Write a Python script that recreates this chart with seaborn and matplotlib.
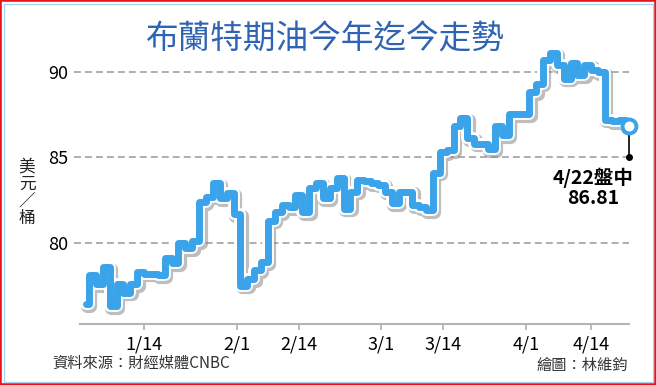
import numpy as np
import pandas as pd
import matplotlib
matplotlib.use("Agg")
import matplotlib.pyplot as plt
import matplotlib.patheffects as pe
from matplotlib.patches import Rectangle
import seaborn as sns

# ---------------- data ----------------
title = "布蘭特期油今年迄今走勢"
y_label = "美\n元\n／\n桶"
source_text = "資料來源：財經媒體CNBC"
credit_text = "繪圖：林維鈞"
last_label = "4/22盤中"

# Brent daily prices by trading day, 2024-01-02 ... 2024-04-22
prices = [
    76.4, 78.1, 77.6, 78.6, 76.3, 77.6, 77.1, 77.6, 78.3, 78.2,
    78.2, 78.1, 79.1, 78.8, 80.0, 79.7, 80.1, 82.4, 82.7, 83.5,
    82.6, 82.9, 81.7, 77.5, 77.9, 78.4, 78.9, 81.3, 81.8, 82.2,
    82.1, 82.8, 81.8, 83.2, 83.5, 82.6, 83.2, 83.8, 82.0, 83.0,
    83.7, 83.6, 83.5, 83.4, 83.0, 82.3, 83.0, 83.0, 82.2, 82.1,
    81.9, 84.1, 85.3, 85.4, 86.8, 87.3, 86.1, 85.8, 85.8, 85.5,
    86.8, 86.3, 87.5, 87.5, 87.5, 88.8, 89.3, 90.7, 91.1, 90.4,
    89.6, 90.5, 89.8, 90.4, 90.1, 90.0, 87.2, 87.1, 87.2, 86.81,
]
x_tick_labels = ["1/14", "2/1", "2/14", "3/1", "3/14", "4/1", "4/14"]
x_tick_days = [8.5, 22, 31, 43, 52, 64, 73.5]   # trading-day index of each label date
y_ticks = [80, 85, 90]

# ---------------- style ----------------
sns.set_theme(style="white")
plt.rcParams["font.family"] = ["Noto Sans CJK TC", "DejaVu Sans"]
plt.rcParams["lines.scale_dashes"] = False

LINE_BLUE = "#3aa3e9"
W, H = 656, 385
fig = plt.figure(figsize=(W / 100, H / 100), dpi=100)
fig.patch.set_facecolor("white")
ax = fig.add_axes([74 / W, 1 - 324 / H, (629 - 74) / W, (324 - 45) / H])
ax.set_facecolor("white")

df = pd.DataFrame({"day": np.arange(len(prices)), "price": prices})

for yv in y_ticks:
    ax.axhline(yv, color="#aeaeae", linewidth=1.4, dashes=(5, 2.9), zorder=1)

sns.lineplot(
    data=df, x="day", y="price", ax=ax, color=LINE_BLUE, linewidth=5,
    drawstyle="steps-mid", solid_joinstyle="round", solid_capstyle="round",
    zorder=3,
    path_effects=[
        pe.SimpleLineShadow(offset=(1.0, -1.3), shadow_color="#8a8a8a", alpha=0.55, linewidth=9.5),
        pe.Stroke(linewidth=8.5, foreground="white"),
        pe.Normal(),
    ],
)

x_last = df["day"].iloc[-1]
y_last = prices[-1]
ax.plot([x_last, x_last], [y_last, y_ticks[1]], color="black", linewidth=1.2, zorder=4, clip_on=False)
ax.plot([x_last], [y_ticks[1]], marker="o", color="black", markersize=4, zorder=4, clip_on=False)
ax.plot([x_last], [y_last], marker="o", markersize=10, markerfacecolor="white",
        markeredgecolor=LINE_BLUE, markeredgewidth=2.8, zorder=6, clip_on=False)

ax.annotate(last_label, xy=(x_last, y_ticks[1]), xytext=(-26, -15), textcoords="offset points",
            ha="center", va="center", fontsize=14, fontweight="bold", color="black")
ax.annotate(f"{y_last:.2f}", xy=(x_last, y_ticks[1]), xytext=(-26, -30), textcoords="offset points",
            ha="center", va="center", fontsize=14, fontweight="bold", color="black")

ax.set_xlim(-1.69, 79.0)
ax.set_ylim(75.26, 91.56)
ax.set_xlabel("")
ax.set_ylabel("")
ax.set_xticks(x_tick_days)
ax.set_xticklabels(x_tick_labels)
ax.set_yticks(y_ticks)
ax.set_yticklabels([str(v) for v in y_ticks])
ax.tick_params(axis="x", bottom=True, length=4, width=1.3, color="#b5b5b5", direction="out",
               pad=4, labelsize=13, labelcolor="black")
ax.tick_params(axis="y", left=False, length=0, pad=4, labelsize=13, labelcolor="black")
for s in ["left", "top", "right"]:
    ax.spines[s].set_visible(False)
ax.spines["bottom"].set_color("#b5b5b5")
ax.spines["bottom"].set_linewidth(1.5)
ax.spines["bottom"].set_bounds(-0.8, 79.0)

fig.text(325 / W, 1 - 40 / H, title, ha="center", va="center", fontsize=23.5, color="#2f63b3")
fig.text(27 / W, 1 - 193 / H, y_label, ha="center", va="center", fontsize=12, linespacing=1.0, color="#222222")
fig.text(52 / W, 1 - 363 / H, source_text, ha="left", va="center", fontsize=11, color="#333333")
fig.text(628 / W, 1 - 365 / H, credit_text, ha="right", va="center", fontsize=11, color="#333333")

fig.add_artist(Rectangle((0, 0), 1, 1, transform=fig.transFigure, fill=False, edgecolor="#e8141c", linewidth=2.6))
fig.add_artist(Rectangle((3.5 / W, 3.5 / H), 1 - 7 / W, 1 - 7 / H, transform=fig.transFigure,
                         fill=False, edgecolor="#a9d2f2", linewidth=0.9))

fig.savefig("out.png", dpi=100)
